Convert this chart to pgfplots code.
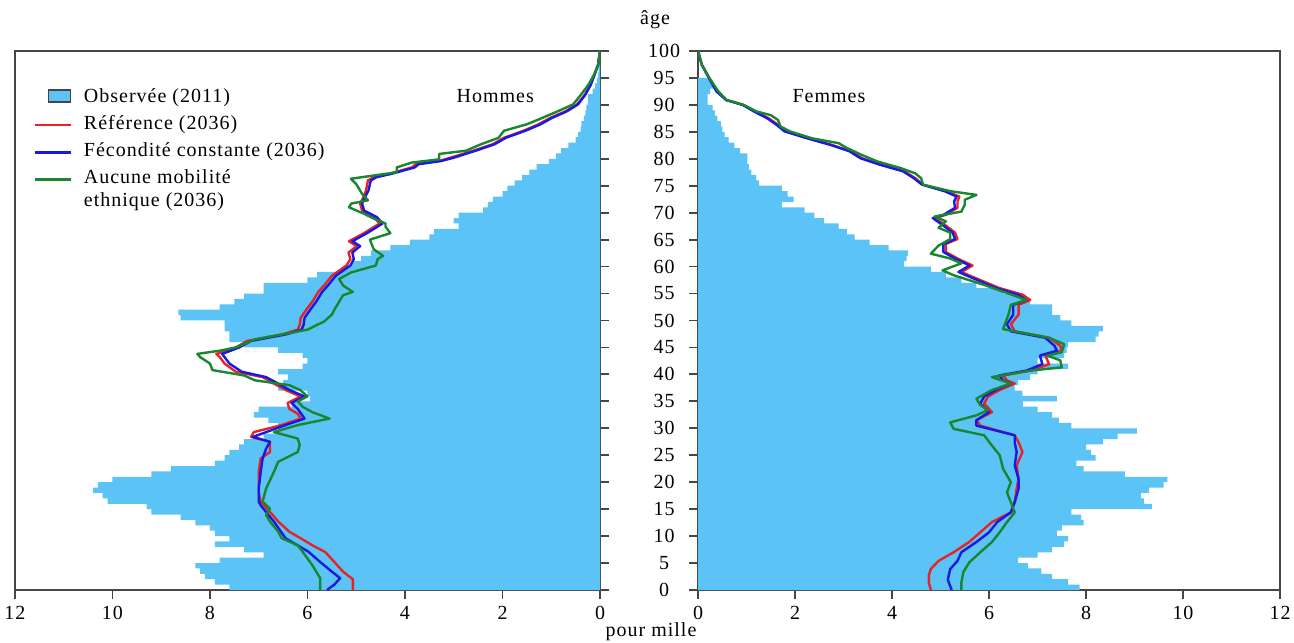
\documentclass[border=0pt]{standalone}
\usepackage{pgfplots}
\pgfplotsset{compat=1.18}
\usepackage{pgfplotstable}
\usepackage{fontspec}
\setmainfont{Liberation Serif}[LetterSpace=5]
\definecolor{obs}{RGB}{91,195,245}
\definecolor{cref}{RGB}{232,35,40}
\definecolor{cfec}{RGB}{25,25,225}
\definecolor{cmob}{RGB}{25,135,45}
\definecolor{axc}{RGB}{70,70,70}

% ---------- Hommes ----------
\pgfplotstableread{
x y
0 0
7.6 0
7.9 1
8.1 2
8.2 3
8.3 4
7.8 5
6.9 6
7.3 7
7.9 8
7.6 9
7.9 10
8.0 11
8.3 12
8.6 13
9.2 14
9.3 15
10.1 16
10.2 17
10.4 18
10.3 19
10.0 20
9.2 21
8.8 22
7.9 23
7.7 24
7.6 25
7.4 26
7.3 27
6.9 28
6.6 29
6.6 30
6.8 31
7.1 32
7.0 33
6.3 34
5.95 35
6.0 36
6.6 37
6.5 38
6.4 39
6.6 40
6.1 41
6.0 42
6.1 43
6.6 44
7.3 45
7.6 46
7.6 47
7.7 48
7.7 49
8.6 50
8.65 51
7.8 52
7.5 53
7.3 54
6.9 55
6.9 56
6.0 57
5.8 58
5.3 59
5.1 60
4.9 61
4.7 62
4.3 63
3.9 64
3.5 65
3.4 66
2.9 67
3.0 68
2.9 69
2.4 70
2.3 71
2.2 72
2.0 73
1.9 74
1.75 75
1.6 76
1.45 77
1.3 78
1.05 79
0.9 80
0.8 81
0.65 82
0.5 83
0.45 84
0.4 85
0.38 86
0.33 87
0.3 88
0.28 89
0.25 90
0.25 91
0.15 92
0.1 93
0.06 94
0.04 95
0.03 96
0.02 97
0.01 98
0.01 99
0 100
}\hobs

\pgfplotstableread{
x y
5.07 0
5.07 2
5.27 3.4
5.43 5
5.63 7
5.9 8.3
6.14 9.6
6.37 10.8
6.6 12.7
6.77 14.5
6.96 16.4
7.0 18
7.0 20
7.0 22
6.96 24.4
6.77 25.6
6.77 27.5
7.16 28.4
7.1 29.3
6.53 30.6
6.14 31.8
6.2 32.7
6.37 33.6
6.41 34.7
6.14 35.9
6.45 37.1
6.69 38.3
6.92 39.5
7.47 40.5
7.7 42
7.8 43.2
7.87 43.8
7.47 45
7.24 46.2
6.53 47.4
6.2 48.3
6.16 49.2
6.14 50.5
6.0 52.3
5.9 53.5
5.78 55.3
5.66 56.5
5.5 58.3
5.2 60.2
5.12 61.4
5.16 62.6
4.99 63.8
5.15 64.7
4.84 66.2
4.52 68
4.64 69.2
4.88 70.4
4.92 71.7
4.85 72.9
4.8 74.1
4.76 76
4.64 76.6
4.33 77.2
3.86 78.4
3.78 79
3.3 79.6
3.07 80.2
2.6 81.5
2.2 82.7
1.97 83.9
1.57 85.2
1.26 86.4
1.02 87.6
0.71 88.8
0.47 90.1
0.31 91.9
0.2 93.7
0.12 95.6
0.04 97.4
0 100
}\href

\pgfplotstableread{
x y
5.6 0
5.45 1
5.33 2.2
5.5 3.4
5.74 5.2
5.98 7.1
6.45 9.6
6.69 12.7
6.96 15.7
7.0 16.4
7.0 18.8
6.96 21.9
6.92 24.4
6.85 26.2
6.77 27.5
7.12 28.4
6.45 30.6
6.06 31.8
6.2 33.6
6.33 34.7
6.06 35.9
6.37 37.1
6.6 38.3
6.85 39.5
7.35 40.5
7.6 42
7.7 43.2
7.75 43.8
7.4 45
7.16 46.2
6.45 47.4
6.12 48.3
6.08 49.2
6.06 50.5
5.92 52.3
5.82 53.5
5.7 55.3
5.58 56.5
5.42 58.3
5.12 60.2
5.05 61.4
5.08 62.6
4.92 63.8
5.08 64.7
4.78 66.2
4.46 68
4.58 69.2
4.84 70.4
4.88 71.7
4.82 72.9
4.75 74.1
4.7 76
4.58 76.6
4.28 77.2
3.8 78.4
3.72 79
3.25 79.6
3.0 80.2
2.55 81.5
2.16 82.7
1.93 83.9
1.53 85.2
1.22 86.4
0.98 87.6
0.68 88.8
0.45 90.1
0.3 91.9
0.19 93.7
0.11 95.6
0.04 97.4
0 100
}\hfec

\pgfplotstableread{
x y
5.74 0
5.74 2.2
5.9 4.6
6.1 7.1
6.2 8.3
6.53 9.6
6.6 10.8
6.77 12.7
6.85 13.9
6.77 15.1
6.92 16.4
6.85 18.8
6.69 21.9
6.6 23.8
6.2 25.6
6.16 26.9
6.2 28.1
6.69 29.3
6.2 30.6
5.55 31.8
5.9 33
6.1 34
6.2 35
6.0 35.9
6.15 37.1
6.37 38
7.08 38.9
7.3 39.8
7.95 40.8
8.0 42
8.2 43.2
8.26 43.8
7.8 44.4
7.47 45
7.08 46.5
6.53 47.4
6.0 48.3
5.8 49.2
5.66 49.8
5.5 51.1
5.43 52.3
5.35 53.5
5.27 54.7
5.07 55.3
5.27 56.5
5.35 57.7
5.11 58.9
4.6 60.2
4.56 61.4
4.45 62
4.64 63.2
4.72 65
4.3 66.2
4.4 67.4
4.4 68
4.64 68.9
4.84 69.8
5.15 71
5.1 71.7
4.76 72.3
4.88 73.5
5.0 75.3
5.11 76.3
4.64 76.9
4.17 77.5
4.17 78.4
3.86 79.3
3.3 79.9
3.3 80.9
2.75 81.5
2.44 82.7
2.08 83.9
1.97 85.2
1.5 86.4
1.18 87.6
0.87 88.8
0.55 90.1
0.39 91.9
0.24 93.7
0.12 95.6
0.04 97.4
0 100
}\hmob

% ---------- Femmes ----------
\pgfplotstableread{
x y
0 0
7.87 0
7.63 1
7.3 2
7.08 3
6.8 4
6.6 5
7.0 6
7.3 7
7.55 8
7.63 9
7.4 10
7.5 11
7.95 12
7.9 13
7.7 14
9.36 15
9.2 16
9.13 17
9.3 18
9.6 19
9.68 20
8.8 21
7.95 22
7.8 23
8.2 24
8.1 25
8.0 26
8.35 27
8.65 28
9.05 29
7.7 30
7.44 31
7.3 32
7.0 33
6.7 34
7.4 35
6.69 36
6.53 37
6.6 38
6.85 39
7.0 40
7.63 41
7.0 42
7.55 43
7.6 44
7.63 45
8.2 46
8.26 47
8.35 48
7.7 49
7.47 50
7.3 51
7.3 52
6.85 53
6.69 54
6.3 55
5.74 56
5.43 57
5.11 58
4.8 59
4.25 60
4.3 61
4.33 62
3.93 63
3.54 64
3.23 65
3.07 66
2.9 67
2.6 68
2.4 69
2.2 70
1.73 71
1.97 72
1.85 73
1.73 74
1.26 75
1.2 76
1.1 77
1.05 78
1.02 79
1.02 80
0.87 81
0.75 82
0.63 83
0.55 84
0.5 85
0.47 86
0.4 87
0.35 88
0.3 89
0.2 90
0.2 91
0.25 92
0.35 93
0.25 94
0 95
}\fobs

\pgfplotstableread{
x y
4.8 0
4.76 1.4
4.76 2.7
4.8 3.9
4.96 5.4
5.27 7
5.59 8.9
5.82 10.7
6.06 12.6
6.45 14.4
6.53 16.3
6.57 18.8
6.61 20.6
6.57 23.1
6.69 25.6
6.61 27.4
6.53 28.7
5.82 30.5
5.74 31.5
6.06 33
5.9 34.6
5.98 35.9
6.22 37.1
6.53 38.3
6.37 38.9
6.29 39.8
6.85 40.7
7.24 41.9
7.16 43.5
7.5 44.4
7.47 45.3
7.24 46.8
6.53 48
6.45 49.3
6.61 51.1
6.61 52.9
6.85 53.8
6.69 54.8
6.22 56
5.74 57.8
5.43 59
5.66 60.2
5.35 61.5
5.11 62.7
5.11 64.2
5.35 65.1
5.3 66.3
5.11 67.6
4.88 69
5.11 69.6
5.35 70.9
5.35 72.1
5.39 73
5.11 74
4.64 75.2
4.48 76.4
4.25 77.7
3.78 78.9
3.38 80.1
3.15 81.4
2.75 82.6
2.28 83.8
1.81 85.1
1.65 86.3
1.46 87.5
1.18 88.8
0.94 90
0.59 90.9
0.39 92.5
0.24 94.9
0.08 97.4
0 100
}\fref

\pgfplotstableread{
x y
5.23 0
5.15 1.9
5.2 3.9
5.35 5.4
5.43 7
5.74 8.9
6.0 10.7
6.17 12.6
6.45 14.4
6.53 16.3
6.61 18.8
6.61 20.6
6.53 23.1
6.57 25.6
6.53 27.4
6.53 28.7
5.74 30.5
5.74 31.5
6.0 33
5.82 34.6
5.9 35.9
6.14 37.1
6.45 38.3
6.29 38.9
6.21 39.8
6.77 40.7
7.1 41.9
7.05 43.5
7.4 44.4
7.35 45.3
7.16 46.8
6.45 48
6.37 49.3
6.5 51.1
6.5 52.9
6.77 53.8
6.6 54.8
6.15 56
5.68 57.8
5.37 59
5.6 60.2
5.3 61.5
5.06 62.7
5.06 64.2
5.3 65.1
5.25 66.3
5.06 67.6
4.84 69
5.06 69.6
5.3 70.9
5.28 72.1
5.33 73
5.08 74
4.62 75.2
4.45 76.4
4.22 77.7
3.75 78.9
3.35 80.1
3.12 81.4
2.72 82.6
2.25 83.8
1.78 85.1
1.62 86.3
1.43 87.5
1.15 88.8
0.92 90
0.58 90.9
0.38 92.5
0.23 94.9
0.08 97.4
0 100
}\ffec

\pgfplotstableread{
x y
5.43 0
5.43 1.4
5.47 3.3
5.59 5.1
5.82 7
6.06 8.9
6.22 10.7
6.37 12.6
6.53 14.4
6.45 16.3
6.37 18.1
6.45 20
6.29 22.5
6.22 25
6.06 26.8
5.9 28.7
5.27 29.9
5.2 31.1
5.74 32.4
5.98 33.4
5.82 34.3
5.74 35.5
6.06 37.1
6.45 38.3
6.06 39.5
6.85 40.7
7.5 41.3
7.47 42.6
7.2 43.5
7.5 44.1
7.55 45.6
7.24 46.8
6.29 48.4
6.4 51.1
6.45 52.9
6.77 53.8
6.37 55.1
5.9 56.6
5.27 58.4
5.04 59.3
5.43 60.6
5.2 61.5
4.8 62.4
4.96 63.9
5.2 65.1
5.2 66.3
4.96 67.2
5.11 68.4
4.88 69.3
5.43 70.2
5.5 71.5
5.5 72.4
5.74 73.3
5.2 74
4.64 75.2
4.6 76.4
4.48 77.3
4.17 78.3
3.7 79.5
3.38 80.7
3.07 82
2.9 82.9
2.35 83.8
1.89 85.1
1.7 86
1.65 87.2
1.5 88.1
1.2 88.8
0.94 90
0.59 90.9
0.42 92.5
0.24 94.9
0.08 97.4
0 100
}\fmob

\pgfplotsset{
  pyr/.style={
    scale only axis, height=269.5pt,
    xmin=0, xmax=12, ymin=0, ymax=100,
    xtick={0,2,...,12}, ytick={0,5,...,100},
    xtick pos=bottom, tick align=outside,
    major tick length=4.5pt,
    axis line style={draw=axc, line width=0.9pt},
    every tick/.style={draw=axc, line width=0.9pt},
    tick label style={font=\fontsize{10}{11.5}\selectfont},
    /pgf/number format/assume math mode=true,
    no markers,
    legend image code/.code={\draw[#1] (0pt,-1.1pt) -- (18pt,-1.1pt);},
  },
  ln/.style={line width=1.2pt, line join=round},
}

\begin{document}
\begin{tikzpicture}[font=\fontsize{10}{11.5}\selectfont]
\path[use as bounding box] (0,0) rectangle (647pt,321pt);

\begin{axis}[pyr, width=292.5pt, at={(7.5pt,26pt)}, anchor=south west,
  x dir=reverse, ytick pos=right, yticklabel pos=right,
  yticklabel style={anchor=center, inner sep=0pt, xshift=27.5pt},
  legend style={at={(0.031,0.935)}, anchor=north west, draw=none, fill=none,
    inner sep=0pt, row sep=4pt, column sep=6pt,
    nodes={inner sep=0pt}, font=\fontsize{10}{11.5}\selectfont},
  legend cell align=left]
\addplot[fill=obs, draw=none, const plot mark right,
  legend image code/.code={\draw[fill=obs, draw=axc, line width=0.7pt] (7pt,-3pt) rectangle (18pt,3pt);}]
  table[x=x,y=y]{\hobs};
\addlegendentry{\strut Observée (2011)}
\addplot[ln, cref] table[x=x,y=y]{\href};
\addlegendentry{\strut Référence (2036)}
\addplot[ln, cfec] table[x=x,y=y]{\hfec};
\addlegendentry{\strut Fécondité constante (2036)}
\addplot[ln, cmob] table[x=x,y=y]{\hmob};
\addlegendentry{\begin{tabular}[t]{@{}l@{}}\strut Aucune mobilité\\\strut ethnique (2036)\end{tabular}}
\node at (axis cs:2.15,91.65) {Hommes};
\end{axis}

\begin{axis}[pyr, width=291pt, at={(349pt,26pt)}, anchor=south west,
  ytick pos=left, yticklabels={}]
\addplot[fill=obs, draw=none, const plot mark right] table[x=x,y=y]{\fobs};
\addplot[ln, cref] table[x=x,y=y]{\fref};
\addplot[ln, cfec] table[x=x,y=y]{\ffec};
\addplot[ln, cmob] table[x=x,y=y]{\fmob};
\node at (axis cs:2.7,91.65) {Femmes};
\end{axis}

\node at (327.5pt,311pt) {âge};
\node at (325.5pt,5pt) {pour mille};
\end{tikzpicture}
\end{document}
